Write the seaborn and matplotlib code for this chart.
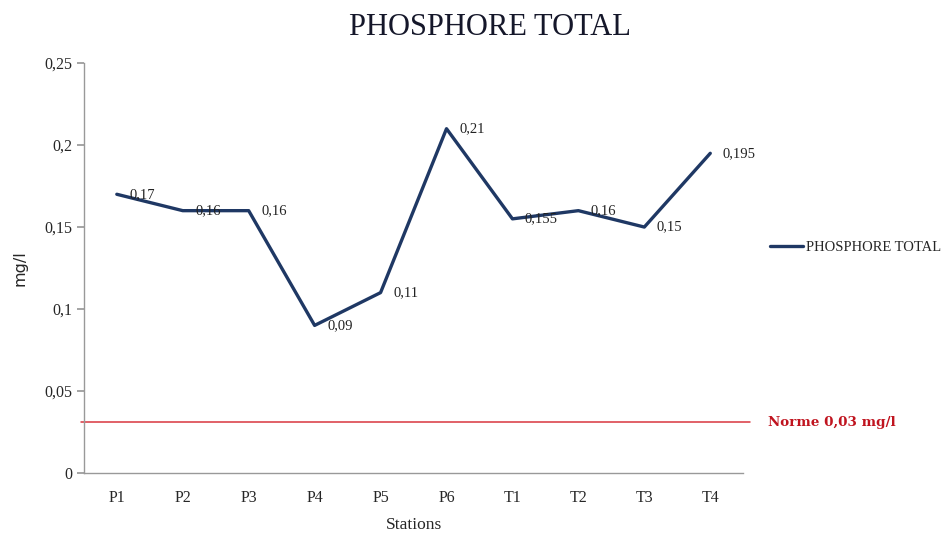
import matplotlib
matplotlib.use("Agg")
import matplotlib.pyplot as plt
import matplotlib.ticker as mticker
import pandas as pd
import seaborn as sns

stations = ["P1", "P2", "P3", "P4", "P5", "P6", "T1", "T2", "T3", "T4"]
phosphore = [0.17, 0.16, 0.16, 0.09, 0.11, 0.21, 0.155, 0.16, 0.15, 0.195]
labels = ["0,17", "0,16", "0,16", "0,09", "0,11", "0,21", "0,155", "0,16", "0,15", "0,195"]
norme = 0.031
yticks = [0, 0.05, 0.1, 0.15, 0.2, 0.25]
ytick_labels = ["0", "0,05", "0,1", "0,15", "0,2", "0,25"]

NAVY = "#1f3864"
RED = "#d9363e"

sns.set_theme(style="white")
plt.rcParams["font.family"] = ["Liberation Serif", "DejaVu Serif"]

df = pd.DataFrame({"Stations": stations, "val": phosphore})

fig = plt.figure(figsize=(9.42, 5.35), dpi=100)
ax = fig.add_axes([0.089, 0.116, 0.700, 0.766])

sns.lineplot(data=df, x="Stations", y="val", ax=ax, color=NAVY,
             linewidth=2.4, sort=False, label="PHOSPHORE TOTAL")

# data labels
for i, (v, t) in enumerate(zip(phosphore, labels)):
    ax.annotate(t, (i, v), xytext=(9, 0), textcoords="offset points",
                ha="left", va="center", fontsize=10.5, color="#222222")

# limit line
ax.axhline(norme, xmin=-0.005, xmax=1.01, color=RED, linewidth=1.1, clip_on=False)
ax.text(1.038, norme, "Norme 0,03 mg/l", transform=ax.get_yaxis_transform(),
        color="#c0141f", fontsize=9.7, fontweight="bold", va="center",
        family=["DejaVu Serif"])

ax.set_xlim(-0.5, len(stations) - 0.5)
ax.set_ylim(0, 0.25)
ax.set_yticks(yticks)
ax.set_yticklabels(ytick_labels)
ax.set_xticks(range(len(stations)))
ax.set_xticklabels(stations)
ax.xaxis.set_minor_locator(mticker.FixedLocator([i - 0.5 for i in range(len(stations) + 1)]))
ax.tick_params(axis="x", which="major", length=0, labelsize=11.5, pad=12)
ax.tick_params(axis="x", which="minor", length=5, color="#999999", direction="out")
ax.tick_params(axis="y", length=5, color="#999999", labelsize=11.5, direction="out", left=True)

for s in ["top", "right"]:
    ax.spines[s].set_visible(False)
for s in ["left", "bottom"]:
    ax.spines[s].set_color("#999999")
    ax.spines[s].set_linewidth(1)

ax.set_xlabel("Stations", fontsize=12.5, labelpad=8)
ax.set_ylabel("mg/l", fontsize=11.5, labelpad=12, family=["DejaVu Sans"])
fig.suptitle("PHOSPHORE TOTAL", x=0.52, y=0.975, fontsize=22, color="#15172a")

leg = ax.legend(loc="center left", bbox_to_anchor=(1.02, 0.55), frameon=False,
                fontsize=10.5, handlelength=2.3, handletextpad=0.2)

fig.savefig("out.png", dpi=100)
